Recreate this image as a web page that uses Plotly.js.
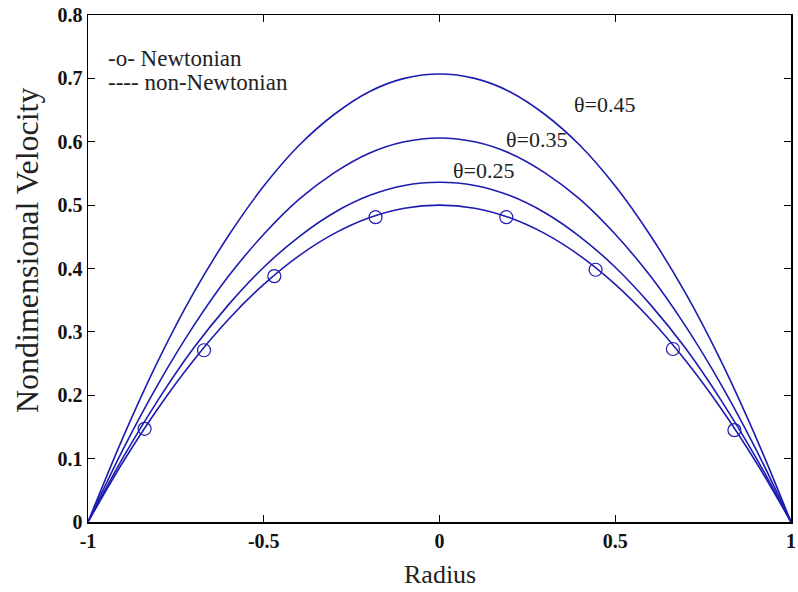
<!DOCTYPE html>
<html>
<head>
<meta charset="utf-8">
<script src="https://cdn.plot.ly/plotly-3.0.1.min.js"></script>
<style>html,body{margin:0;padding:0;background:#fff;}#chart{width:798px;height:592px;}</style>
</head>
<body>
<div id="chart"></div>
<script>
// Radius grid for the curves
const radius = [-1, -0.9, -0.8, -0.7, -0.6, -0.5, -0.4, -0.3, -0.2, -0.1, 0, 0.1, 0.2, 0.3, 0.4, 0.5, 0.6, 0.7, 0.8, 0.9, 1];
// Newtonian / base curve (peak 0.5)
const velBase = [0, 0.095, 0.18, 0.255, 0.32, 0.375, 0.42, 0.455, 0.48, 0.495, 0.5, 0.495, 0.48, 0.455, 0.42, 0.375, 0.32, 0.255, 0.18, 0.095, 0];
// non-Newtonian curves
const velT025 = [0, 0.102, 0.193, 0.274, 0.343, 0.402, 0.450, 0.488, 0.515, 0.531, 0.536, 0.531, 0.515, 0.488, 0.450, 0.402, 0.343, 0.274, 0.193, 0.102, 0];
const velT035 = [0, 0.115, 0.218, 0.309, 0.388, 0.454, 0.509, 0.551, 0.582, 0.600, 0.606, 0.600, 0.582, 0.551, 0.509, 0.454, 0.388, 0.309, 0.218, 0.115, 0];
const velT045 = [0, 0.134, 0.255, 0.361, 0.452, 0.530, 0.594, 0.643, 0.679, 0.700, 0.707, 0.700, 0.679, 0.643, 0.594, 0.530, 0.452, 0.361, 0.255, 0.134, 0];
// Newtonian markers
const markX = [-0.839, -0.670, -0.470, -0.182, 0.190, 0.444, 0.664, 0.839];
const markY = [0.147, 0.271, 0.388, 0.481, 0.481, 0.398, 0.273, 0.145];
// curve labels
const labelText = ['θ=0.45', 'θ=0.35', 'θ=0.25'];
const labelX = [0.470, 0.275, 0.126];
const labelY = [0.658, 0.603, 0.554];
const legendText = ['-o- Newtonian', '---- non-Newtonian'];
const xTitle = 'Radius';
const yTitle = 'Nondimensional Velocity';
const xTicks = [-1, -0.5, 0, 0.5, 1];
const yTicks = [0, 0.1, 0.2, 0.3, 0.4, 0.5, 0.6, 0.7, 0.8];

const blue = '#1c1cb0';
const serif = '"Liberation Serif"';
const textCol = '#222';

const lineTrace = (y) => ({x: radius, y: y, mode: 'lines', line: {color: blue, width: 1.6, shape: 'spline', smoothing: 1.0}, hoverinfo: 'skip', showlegend: false});

const data = [
  lineTrace(velBase), lineTrace(velT025), lineTrace(velT035), lineTrace(velT045),
  {x: markX, y: markY, mode: 'markers', marker: {symbol: 'circle-open', size: 13, color: blue, line: {width: 1.2, color: blue}}, showlegend: false}
];

const annotations = labelText.map((t, i) => ({x: labelX[i], y: labelY[i], xref: 'x', yref: 'y', text: t, showarrow: false, font: {family: serif, size: 22, color: textCol}}));
annotations.push({x: 0.025, y: 0.915, xref: 'paper', yref: 'paper', xanchor: 'left', yanchor: 'middle', text: legendText[0], showarrow: false, font: {family: serif, size: 23, color: textCol}});
annotations.push({x: 0.025, y: 0.866, xref: 'paper', yref: 'paper', xanchor: 'left', yanchor: 'middle', text: legendText[1], showarrow: false, font: {family: serif, size: 23, color: textCol}});
// y-axis title (positioned as in the reference, slightly above centre)
annotations.push({x: -0.087, y: 0.536, xref: 'paper', yref: 'paper', xanchor: 'center', yanchor: 'middle', textangle: -90, text: yTitle, showarrow: false, font: {family: serif, size: 32, color: textCol}});
// x-axis title
annotations.push({x: 0.5, y: -0.104, xref: 'paper', yref: 'paper', xanchor: 'center', yanchor: 'middle', text: xTitle, showarrow: false, font: {family: serif, size: 26, color: textCol}});

const layout = {
  width: 798, height: 592,
  margin: {l: 88, r: 7, t: 15, b: 70},
  paper_bgcolor: '#fff', plot_bgcolor: '#fff',
  showlegend: false,
  font: {family: serif},
  xaxis: {
    range: [-1, 1], tickvals: xTicks, ticktext: xTicks.map(String),
    ticks: 'inside', ticklen: 7, tickwidth: 1.2, tickcolor: '#000',
    showline: true, linecolor: '#000', linewidth: 1.5, mirror: 'ticks',
    showgrid: false, zeroline: false,
    tickfont: {family: serif, size: 20, color: '#111', weight: 'bold'}
  },
  yaxis: {
    range: [0, 0.8], tickvals: yTicks, ticktext: yTicks.map(String),
    ticks: 'inside', ticklen: 7, tickwidth: 1.2, tickcolor: '#000',
    showline: true, linecolor: '#000', linewidth: 1.5, mirror: 'ticks',
    showgrid: false, zeroline: false,
    tickfont: {family: serif, size: 20, color: '#111', weight: 'bold'}
  },
  annotations: annotations
};

Plotly.newPlot('chart', data, layout, {displayModeBar: false, staticPlot: true});
</script>
</body>
</html>
